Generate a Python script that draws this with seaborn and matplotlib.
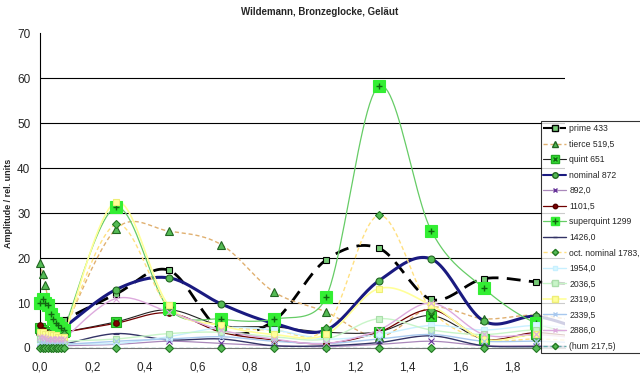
import numpy as np
import matplotlib
matplotlib.use('Agg')
import matplotlib.pyplot as plt
from matplotlib.lines import Line2D
from matplotlib.legend_handler import HandlerTuple
import seaborn as sns

# Zeitpunkte (s) und Amplituden je Teilton
x = [0.0, 0.01, 0.02, 0.03, 0.04, 0.05, 0.06, 0.07, 0.08, 0.09,
     0.29, 0.49, 0.69, 0.89, 1.09, 1.29, 1.49, 1.69, 1.89, 2.09]

prime = [4.0, 4.5, 4.2, 3.8, 3.5, 3.8, 4.2, 5.0, 5.6, 6.2,
         12.0, 17.3, 4.0, 6.0, 19.6, 22.2, 10.8, 15.4, 14.7, 14.0]
tierce = [19.0, 16.5, 14.0, 11.0, 9.0, 7.5, 6.0, 5.0, 4.5, 4.0,
          26.5, 26.0, 23.0, 12.5, 8.0, 2.5, 9.0, 6.5, 7.3, 5.5]
quint = [4.5, 4.0, 3.5, 3.0, 3.0, 3.0, 3.2, 3.5, 3.5, 3.5,
         5.8, 8.5, 5.0, 4.7, 3.5, 3.6, 7.2, 2.0, 3.0, 2.5]
nominal = [3.0, 3.0, 3.2, 3.3, 3.5, 3.6, 3.8, 4.0, 4.2, 4.5,
           13.0, 15.6, 9.8, 5.5, 4.0, 14.9, 19.8, 6.0, 7.0, 3.5]
p892 = [1.0, 1.0, 0.8, 0.8, 0.6, 0.6, 0.5, 0.5, 0.5, 0.5,
        0.8, 1.5, 1.0, 0.5, 0.3, 0.8, 1.5, 0.5, 0.5, 0.3]
p1101 = [5.0, 4.0, 3.5, 3.0, 3.0, 3.2, 3.5, 3.5, 3.5, 3.5,
         5.5, 7.8, 3.5, 1.8, 1.0, 3.5, 8.5, 2.0, 3.4, 2.0]
superquint = [10.0, 11.0, 10.0, 9.5, 7.5, 6.5, 5.5, 5.0, 4.5, 4.0,
              31.3, 8.8, 6.4, 6.4, 11.3, 58.2, 26.1, 13.3, 5.5, 3.0]
p1426 = [0.5, 0.5, 0.5, 0.6, 0.6, 0.6, 0.7, 0.7, 0.8, 0.8,
         3.2, 1.8, 2.0, 0.5, 0.5, 1.2, 2.7, 0.5, 0.3, 0.2]
oct_nominal = [3.0, 2.5, 2.5, 2.0, 2.0, 2.0, 2.0, 2.0, 2.5, 3.0,
               27.5, 9.0, 5.0, 4.0, 4.5, 29.5, 8.5, 2.0, 2.0, 1.5]
p1954 = [1.5, 1.5, 1.5, 1.2, 1.2, 1.2, 1.0, 1.0, 1.0, 1.0,
         1.0, 2.5, 4.5, 4.0, 2.0, 3.0, 5.0, 4.0, 5.0, 4.0]
p2036 = [2.0, 2.0, 1.8, 1.8, 1.5, 1.5, 1.5, 1.5, 1.5, 1.5,
         2.0, 3.2, 3.5, 2.5, 2.0, 6.5, 4.0, 3.0, 4.0, 3.0]
p2319 = [3.5, 3.5, 3.0, 3.0, 3.0, 2.8, 2.8, 2.5, 2.5, 2.5,
         32.5, 9.5, 5.0, 3.0, 3.0, 13.2, 9.5, 2.0, 3.0, 2.0]
p2339 = [1.0, 1.0, 1.0, 0.8, 0.8, 0.8, 0.8, 0.8, 0.8, 0.8,
         1.5, 2.0, 2.5, 1.5, 1.0, 2.0, 3.0, 1.5, 1.5, 1.0]
p2886 = [2.5, 2.5, 2.2, 2.0, 2.0, 2.0, 2.0, 2.0, 2.0, 2.0,
         11.0, 8.0, 4.0, 2.0, 1.0, 4.0, 10.0, 3.0, 3.0, 2.0]
hum = [0.0] * 20

labels = ['prime 433', 'tierce 519,5', 'quint 651', 'nominal 872', '892,0',
          '1101,5', 'superquint 1299', '1426,0', 'oct. nominal 1783,',
          '1954,0', '2036,5', '2319,0', '2339,5', '2886,0', '(hum 217,5)']
series = [prime, tierce, quint, nominal, p892, p1101, superquint, p1426,
          oct_nominal, p1954, p2036, p2319, p2339, p2886, hum]

# (Linienfarbe, Linienart, Breite, Marker, Füllung, Rand, Größe, Zeichen darin)
styles = [
    ('black', (0, (5, 3)), 2.0, 's', '#77cc77', 'black', 5, None),
    ('#e0b070', (0, (3, 2)), 1.0, '^', '#55bb55', '#226622', 5.5, None),
    ('#222222', '-', 0.8, 's', '#33dd33', '#22aa22', 7, 'x'),
    ('#1a1a80', '-', 2.2, 'o', '#55bb55', '#226622', 5, None),
    ('#aa88bb', '-', 0.9, 'x', '#663399', '#663399', 4, None),
    ('#700000', '-', 0.9, 'o', '#800000', '#500000', 4, None),
    ('#66cc66', '-', 0.9, 's', '#33ee33', '#33ee33', 8, '+'),
    ('#333366', '-', 1.0, '_', '#333366', '#333366', 4, None),
    ('#ffe080', (0, (3, 2)), 1.0, 'D', '#55bb55', '#227722', 4, None),
    ('#c8f0ff', '-', 1.0, 's', '#d8f8ff', '#c8f0ff', 4, None),
    ('#c8f5c8', '-', 1.0, 's', '#c8f5c8', '#aaddaa', 5, None),
    ('#ffff99', '-', 1.2, 's', '#ffff99', '#eeee77', 5, None),
    ('#a8c8ee', '-', 1.0, 'x', '#a8c8ee', '#a8c8ee', 4, None),
    ('#ddaadd', '-', 1.0, 'x', '#ddaadd', '#ddaadd', 4, None),
    ('#66aaaa', (0, (3, 2)), 1.0, 'D', '#55bb55', '#227722', 4, None),
]

SX, SY = 262.0, 4.5  # etwa Pixel pro Einheit, für die Glättung


def smooth(xs, ys, n=24):
    # geglättete Linie wie in Excel (Catmull-Rom-Bezier), Griffe bei kurzen Stücken begrenzt
    p = np.column_stack([np.array(xs) * SX, np.array(ys) * SY])
    out = [p[0]]
    for i in range(len(p) - 1):
        a, b = p[i], p[i + 1]
        pa = p[i - 1] if i > 0 else a
        pb = p[i + 2] if i + 2 < len(p) else b
        seg = np.linalg.norm(b - a)
        ta = (b - pa) / 6
        tb = (pb - a) / 6
        for t_ in (ta, tb):
            ln = np.linalg.norm(t_)
            if ln > 0.5 * seg:
                t_ *= 0.5 * seg / ln
        c1, c2 = a + ta, b - tb
        t = np.linspace(0, 1, n)[1:, None]
        pts = ((1 - t) ** 3) * a + 3 * ((1 - t) ** 2) * t * c1 + 3 * (1 - t) * t ** 2 * c2 + t ** 3 * b
        out.extend(pts)
    out = np.array(out)
    return out[:, 0] / SX, out[:, 1] / SY


sns.set_style('white')
plt.rcParams['font.family'] = ['Liberation Sans', 'DejaVu Sans']

fig = plt.figure(figsize=(6.4, 3.77), dpi=100)
ax = fig.add_axes([0.0625, 0.077, 0.8205, 0.835])

for yy in range(10, 70, 10):
    ax.axhline(yy, color='black', lw=0.8, zorder=0)

order = list(range(len(series)))[::-1]
for i in order:
    lc, ls, lw, mk, mf, me, ms, inner = styles[i]
    sx, sy = smooth(x, series[i])
    sns.lineplot(x=sx, y=sy, ax=ax, color=lc, linestyle=ls, linewidth=lw,
                 estimator=None, sort=False, zorder=2 + i * 0.01)
    ax.plot(x[:19], series[i][:19], linestyle='none', marker=mk, markerfacecolor=mf,
            markeredgecolor=me, markersize=ms, markeredgewidth=0.8, clip_on=False,
            zorder=3 + i * 0.01)
    if inner:
        ax.plot(x[:19], series[i][:19], linestyle='none', marker=inner, color='#116611',
                markersize=ms * 0.6, markeredgewidth=1.0, clip_on=False, zorder=3.001 + i * 0.01)

handles = []
for i in range(len(series)):
    lc, ls, lw, mk, mf, me, ms, inner = styles[i]
    h = Line2D([], [], color=lc, linestyle=ls, linewidth=min(lw, 1.5), marker=mk,
               markerfacecolor=mf, markeredgecolor=me, markersize=ms * 0.8)
    if inner:
        h = (h, Line2D([], [], linestyle='none', marker=inner, color='#116611',
                       markersize=ms * 0.5, markeredgewidth=1.0))
    handles.append(h)

ax.set_xlim(0, 2.0)
ax.set_ylim(0, 70)
xt = [0.0, 0.2, 0.4, 0.6, 0.8, 1.0, 1.2, 1.4, 1.6, 1.8]
ax.set_xticks(xt)
ax.set_xticklabels([('%.1f' % v).replace('.', ',') for v in xt], fontsize=8.5)
ax.set_yticks(range(0, 80, 10))
ax.set_yticklabels([str(v) for v in range(0, 80, 10)], fontsize=8.5)
ax.tick_params(axis='both', direction='out', length=4, width=0.8, color='black', pad=3)
ax.tick_params(axis='x', pad=6)
for s in ['top', 'right']:
    ax.spines[s].set_visible(False)
ax.spines['left'].set_color('black')
ax.spines['left'].set_linewidth(0.8)
ax.spines['bottom'].set_color('#777777')
ax.spines['bottom'].set_linewidth(0.8)

fig.text(0.5, 0.968, 'Wildemann, Bronzeglocke, Geläut', ha='center', va='center',
         fontsize=7, fontweight='bold')
fig.text(0.013, 0.46, 'Amplitude / rel. units', rotation=90, ha='center', va='center',
         fontsize=6.5, fontweight='bold')

leg = fig.legend(handles, labels, loc='upper left', bbox_to_anchor=(0.845, 0.678),
                 handler_map={tuple: HandlerTuple(ndivide=1, pad=0)},
                 fontsize=6.2, frameon=True, fancybox=False, edgecolor='black',
                 borderpad=0.3, labelspacing=0.76, handlelength=2.6, handletextpad=0.4,
                 borderaxespad=0)
leg.get_frame().set_linewidth(0.8)
leg.set_zorder(10)

fig.savefig('out.png', dpi=100)
